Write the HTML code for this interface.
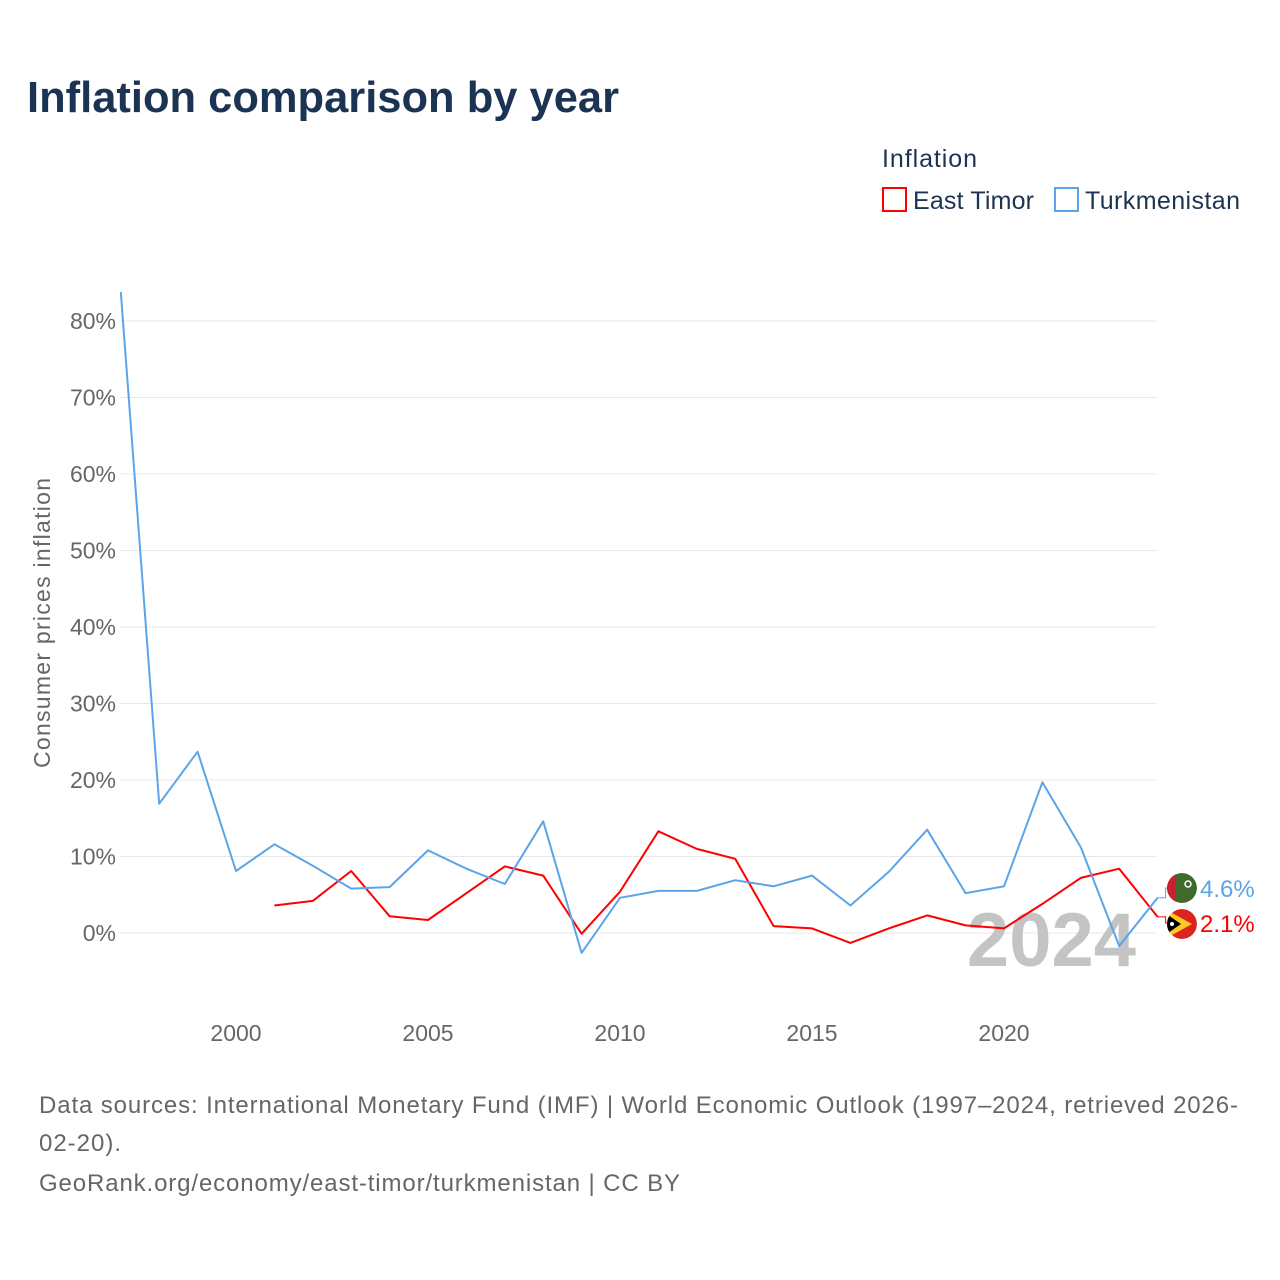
<!DOCTYPE html>
<html><head><meta charset="utf-8">
<style>
body{margin:0;background:#fff;}
svg{display:block;font-family:"Liberation Sans",sans-serif;}
</style></head>
<body>
<svg id="chart" width="1280" height="1280" xmlns="http://www.w3.org/2000/svg">
<defs>
<clipPath id="c1"><circle cx="1182" cy="888" r="15"/></clipPath>
<clipPath id="c2"><circle cx="1182" cy="924" r="15"/></clipPath>
</defs>
<rect width="1280" height="1280" fill="#fff"/>
<text x="27" y="112" font-size="44" font-weight="bold" fill="#1b3453" textLength="592" lengthAdjust="spacingAndGlyphs">Inflation comparison by year</text>
<text x="882" y="167" font-size="25" fill="#1b3453" textLength="95">Inflation</text>
<g>
<rect x="883" y="188" width="23" height="23" fill="none" stroke="#ff0000" stroke-width="2"/>
<text x="913" y="209" font-size="25" fill="#1b3453" textLength="121">East Timor</text></g>
<g>
<rect x="1055" y="188" width="23" height="23" fill="none" stroke="#5ba4ea" stroke-width="2"/>
<text x="1085" y="209" font-size="25" fill="#1b3453" textLength="155">Turkmenistan</text></g>
<text transform="translate(50,623) rotate(-90)" text-anchor="middle" font-size="23" fill="#666" textLength="290">Consumer prices inflation</text>
<g id="grid"></g><g id="yticks"></g><g id="xticks"></g>
<text x="1136" y="966" text-anchor="end" font-size="76" font-weight="bold" fill="#c4c4c4">2024</text>
<g id="series"></g>
<text font-size="24" fill="#666"><tspan x="39" y="1113" textLength="1199">Data sources: International Monetary Fund (IMF) | World Economic Outlook (1997–2024, retrieved 2026-</tspan><tspan x="39" y="1151" textLength="82">02-20).</tspan><tspan x="39" y="1191" textLength="641">GeoRank.org/economy/east-timor/turkmenistan | CC BY</tspan></text>
</svg>
<script>
const years=[1997,1998,1999,2000,2001,2002,2003,2004,2005,2006,2007,2008,2009,2010,2011,2012,2013,2014,2015,2016,2017,2018,2019,2020,2021,2022,2023,2024];
const turkmenistan=[83.8,16.9,23.7,8.1,11.6,8.8,5.8,6.0,10.8,8.4,6.4,14.6,-2.6,4.6,5.5,5.5,6.9,6.1,7.5,3.6,8.0,13.5,5.2,6.1,19.7,11.2,-1.7,4.6];
const eastTimor=[null,null,null,null,3.6,4.2,8.1,2.2,1.7,5.2,8.7,7.5,-0.1,5.4,13.3,11.0,9.7,0.9,0.6,-1.3,0.6,2.3,1.0,0.6,3.8,7.2,8.4,2.1];
const yTicks=[0,10,20,30,40,50,60,70,80];
const xTicks=[2000,2005,2010,2015,2020];
const NS="http://www.w3.org/2000/svg";
const X=y=>120.8+(y-1997)*38.4;
const Y=v=>933-v*7.65;
function mk(t,a,p){const e=document.createElementNS(NS,t);for(const k in a)e.setAttribute(k,a[k]);document.getElementById(p).appendChild(e);return e;}
yTicks.forEach(v=>{
 const l=mk('line',{x1:120,x2:1157,y1:Y(v),y2:Y(v),stroke:'#e8e8e8','stroke-width':1},'grid');
 
 
 const t=mk('text',{x:116,y:Y(v)+8,'text-anchor':'end','font-size':23,fill:'#666'},'yticks');
 t.textContent=v+'%';
 
 
});
xTicks.forEach(v=>{
 const t=mk('text',{x:X(v),y:1041,'text-anchor':'middle','font-size':23,fill:'#666'},'xticks');
 t.textContent=v;
 
 
});
function path(vals,color,name){
 let d='';vals.forEach((v,i)=>{if(v===null)return;d+=(d?'L':'M')+X(years[i]).toFixed(1)+','+Y(v).toFixed(1);});
 const p=mk('path',{d:d,fill:'none',stroke:color,'stroke-width':2,'stroke-linejoin':'round'},'series');
 
 
}
path(eastTimor,'#ff0000','east-timor-line');
path(turkmenistan,'#5ba4ea','turkmenistan-line');
function endLabel(vals,color,ly,name,flag){
 const v=vals[vals.length-1],x=X(years[years.length-1]);
 mk('path',{d:`M${x},${Y(v)}L${x+8},${Y(v)}L${x+8},${ly}L${x+12},${ly}`,fill:'none',stroke:color,'stroke-width':1},'series');
 const g=mk('g',{},'series');
 
 
 g.innerHTML=flag;
 const t=mk('text',{x:1200,y:ly+9,'font-size':24,fill:color},'series');
 t.textContent=v.toFixed(1)+'%';
 
 
}
endLabel(turkmenistan,'#5ba4ea',888,'turkmenistan','<g clip-path="url(#c1)"><circle cx="1182" cy="888" r="15" fill="#3f6a2b"/><rect x="1167" y="873" width="9" height="30" fill="#c8202f"/><circle cx="1188" cy="884" r="3" fill="none" stroke="#fff" stroke-width="1.5"/></g>');
endLabel(eastTimor,'#ff0000',923,'east-timor','<g clip-path="url(#c2)"><circle cx="1182" cy="924" r="15" fill="#dc241f"/><path d="M1165,909L1192,924L1165,939Z" fill="#ffc726"/><path d="M1165,913L1181,924L1165,935Z" fill="#000"/><circle cx="1172" cy="924" r="2" fill="#fff"/></g>');
</script>
</body></html>
